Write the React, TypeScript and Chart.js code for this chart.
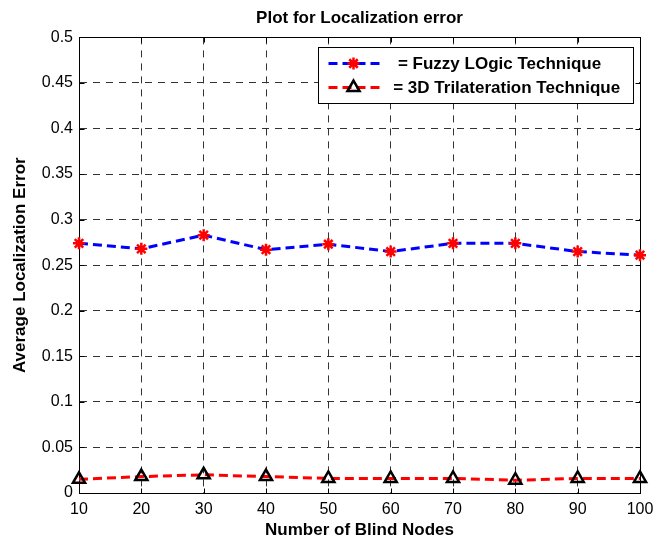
import React, { useEffect, useRef } from 'react';
import { Chart, registerables } from 'chart.js';
import { drawPoint } from 'chart.js/helpers';

Chart.register(...registerables);

const blindNodes = [10, 20, 30, 40, 50, 60, 70, 80, 90, 100];
const fuzzyError = [0.274, 0.268, 0.283, 0.267, 0.273, 0.265, 0.274, 0.274, 0.265, 0.261];
const trilaterationError = [0.015, 0.018, 0.02, 0.018, 0.016, 0.016, 0.016, 0.014, 0.016, 0.016];
const xTickValues = [10, 20, 30, 40, 50, 60, 70, 80, 90, 100];
const xTickLabels = ['10', '20', '30', '40', '50', '60', '70', '80', '90', '100'];
const yTickValues = [0, 0.05, 0.1, 0.15, 0.2, 0.25, 0.3, 0.35, 0.4, 0.45, 0.5];
const yTickLabels = ['0', '0.05', '0.1', '0.15', '0.2', '0.25', '0.3', '0.35', '0.4', '0.45', '0.5'];
const seriesNames = ['  = Fuzzy LOgic Technique', ' = 3D Trilateration Technique'];
const chartTitle = 'Plot for Localization error';
const xTitle = 'Number of Blind Nodes';
const yTitle = 'Average Localization Error';

const FONT = '"Liberation Sans", Arial, Helvetica, sans-serif';

const framePlugin = {
  id: 'matlabFrame',
  beforeDatasetsDraw(chart: any) {
    const { ctx, chartArea, scales } = chart;
    const { left, right, top, bottom } = chartArea;
    const a = (v: number) => Math.round(v) + 0.5;
    ctx.save();
    ctx.setLineDash([]);
    ctx.strokeStyle = '#000';
    ctx.lineWidth = 1;
    ctx.beginPath();
    ctx.moveTo(a(left), a(top));
    ctx.lineTo(a(right), a(top));
    ctx.lineTo(a(right), a(bottom));
    const t = 5;
    scales.x.ticks.forEach((tk: any) => {
      const px = a(scales.x.getPixelForValue(tk.value));
      ctx.moveTo(px, a(bottom));
      ctx.lineTo(px, a(bottom) - t);
      ctx.moveTo(px, a(top));
      ctx.lineTo(px, a(top) + t);
    });
    scales.y.ticks.forEach((tk: any) => {
      const py = a(scales.y.getPixelForValue(tk.value));
      ctx.moveTo(a(left), py);
      ctx.lineTo(a(left) + t, py);
      ctx.moveTo(a(right), py);
      ctx.lineTo(a(right) - t, py);
    });
    ctx.stroke();
    ctx.restore();
  },
};

const legendPlugin = {
  id: 'matlabLegend',
  afterDraw(chart: any) {
    const { ctx } = chart;
    const bx = 318.5, by = 47.5, bw = 315, bh = 56;
    ctx.save();
    ctx.fillStyle = '#fff';
    ctx.fillRect(bx, by, bw, bh);
    ctx.strokeStyle = '#000';
    ctx.lineWidth = 1;
    ctx.setLineDash([]);
    ctx.strokeRect(bx, by, bw, bh);
    chart.data.datasets.forEach((ds: any, i: number) => {
      const cy = by + 16 + i * 24;
      ctx.save();
      ctx.strokeStyle = ds.borderColor;
      ctx.lineWidth = ds.borderWidth;
      ctx.setLineDash(ds.borderDash);
      ctx.beginPath();
      ctx.moveTo(bx + 10, cy);
      ctx.lineTo(bx + 61, cy);
      ctx.stroke();
      ctx.restore();
      ctx.save();
      ctx.setLineDash([]);
      ctx.strokeStyle = ds.pointBorderColor;
      ctx.fillStyle = ds.pointBackgroundColor;
      ctx.lineWidth = ds.pointBorderWidth;
      drawPoint(ctx, { pointStyle: ds.pointStyle, rotation: 0, radius: ds.pointRadius, borderWidth: ds.pointBorderWidth } as any, bx + 35, cy);
      ctx.restore();
      ctx.fillStyle = '#000';
      ctx.font = `bold 17px ${FONT}`;
      ctx.textBaseline = 'middle';
      ctx.textAlign = 'left';
      ctx.fillText(seriesNames[i], bx + 70, cy + 1);
    });
    ctx.restore();
  },
};

export default function App() {
  const ref = useRef<HTMLCanvasElement | null>(null);
  useEffect(() => {
    if (!ref.current) return;
    const chart = new Chart(ref.current, {
      type: 'line',
      data: {
        datasets: [
          {
            label: seriesNames[0],
            data: blindNodes.map((x, i) => ({ x, y: fuzzyError[i] })),
            borderColor: '#0000ff',
            borderWidth: 3,
            borderDash: [9, 5],
            pointStyle: 'star',
            pointRadius: 6,
            pointBorderWidth: 2.5,
            pointBorderColor: '#ff0000',
            pointBackgroundColor: '#ff0000',
            fill: false,
            tension: 0,
            clip: false as any,
          },
          {
            label: seriesNames[1],
            data: blindNodes.map((x, i) => ({ x, y: trilaterationError[i] })),
            borderColor: '#ff0000',
            borderWidth: 3,
            borderDash: [9, 5],
            pointStyle: 'triangle',
            pointRadius: 7,
            pointBorderWidth: 2.5,
            pointBorderColor: '#000000',
            pointBackgroundColor: 'rgba(0,0,0,0)',
            fill: false,
            tension: 0,
            clip: false as any,
          },
        ],
      },
      options: {
        responsive: false,
        animation: false,
        devicePixelRatio: 1,
        layout: { padding: { left: 0, right: 28, top: 0, bottom: 0 } },
        plugins: {
          legend: { display: false },
          tooltip: { enabled: false },
          title: {
            display: true,
            fullSize: false,
            text: chartTitle,
            color: '#000',
            font: { family: FONT, size: 17, weight: 'bold' },
            padding: { top: 8, bottom: 9 },
          },
        },
        scales: {
          x: {
            type: 'linear',
            min: 10,
            max: 100,
            afterBuildTicks: (s: any) => {
              s.ticks = xTickValues.map((v) => ({ value: v }));
            },
            afterFit: (s: any) => {
              s.height = 46;
            },
            ticks: {
              color: '#000',
              font: { family: FONT, size: 16 },
              padding: 7,
              maxRotation: 0,
              callback: (_v: any, i: number) => xTickLabels[i],
            },
            grid: { color: '#333', lineWidth: 1, drawTicks: false },
            border: { display: true, color: '#000', width: 1, dash: [7, 6] },
            title: {
              display: true,
              text: xTitle,
              color: '#000',
              font: { family: FONT, size: 17, weight: 'bold' },
              padding: { top: 0, bottom: -2 },
            },
          },
          y: {
            type: 'linear',
            min: 0,
            max: 0.5,
            afterBuildTicks: (s: any) => {
              s.ticks = yTickValues.map((v) => ({ value: v }));
            },
            afterFit: (s: any) => {
              s.width = 79;
            },
            ticks: {
              color: '#000',
              font: { family: FONT, size: 16 },
              padding: 6,
              callback: (_v: any, i: number) => yTickLabels[i],
            },
            grid: { color: '#333', lineWidth: 1, drawTicks: false },
            border: { display: true, color: '#000', width: 1, dash: [7, 6] },
            title: {
              display: true,
              text: yTitle,
              color: '#000',
              font: { family: FONT, size: 17, weight: 'bold' },
              padding: { top: 10, bottom: 0 },
            },
          },
        },
      },
      plugins: [framePlugin, legendPlugin],
    } as any);
    return () => chart.destroy();
  }, []);
  return (
    <div style={{ position: 'absolute', left: 0, top: 0, width: 668, height: 539, background: '#fff' }}>
      <canvas ref={ref} width={668} height={539} style={{ display: 'block' }} />
    </div>
  );
}
